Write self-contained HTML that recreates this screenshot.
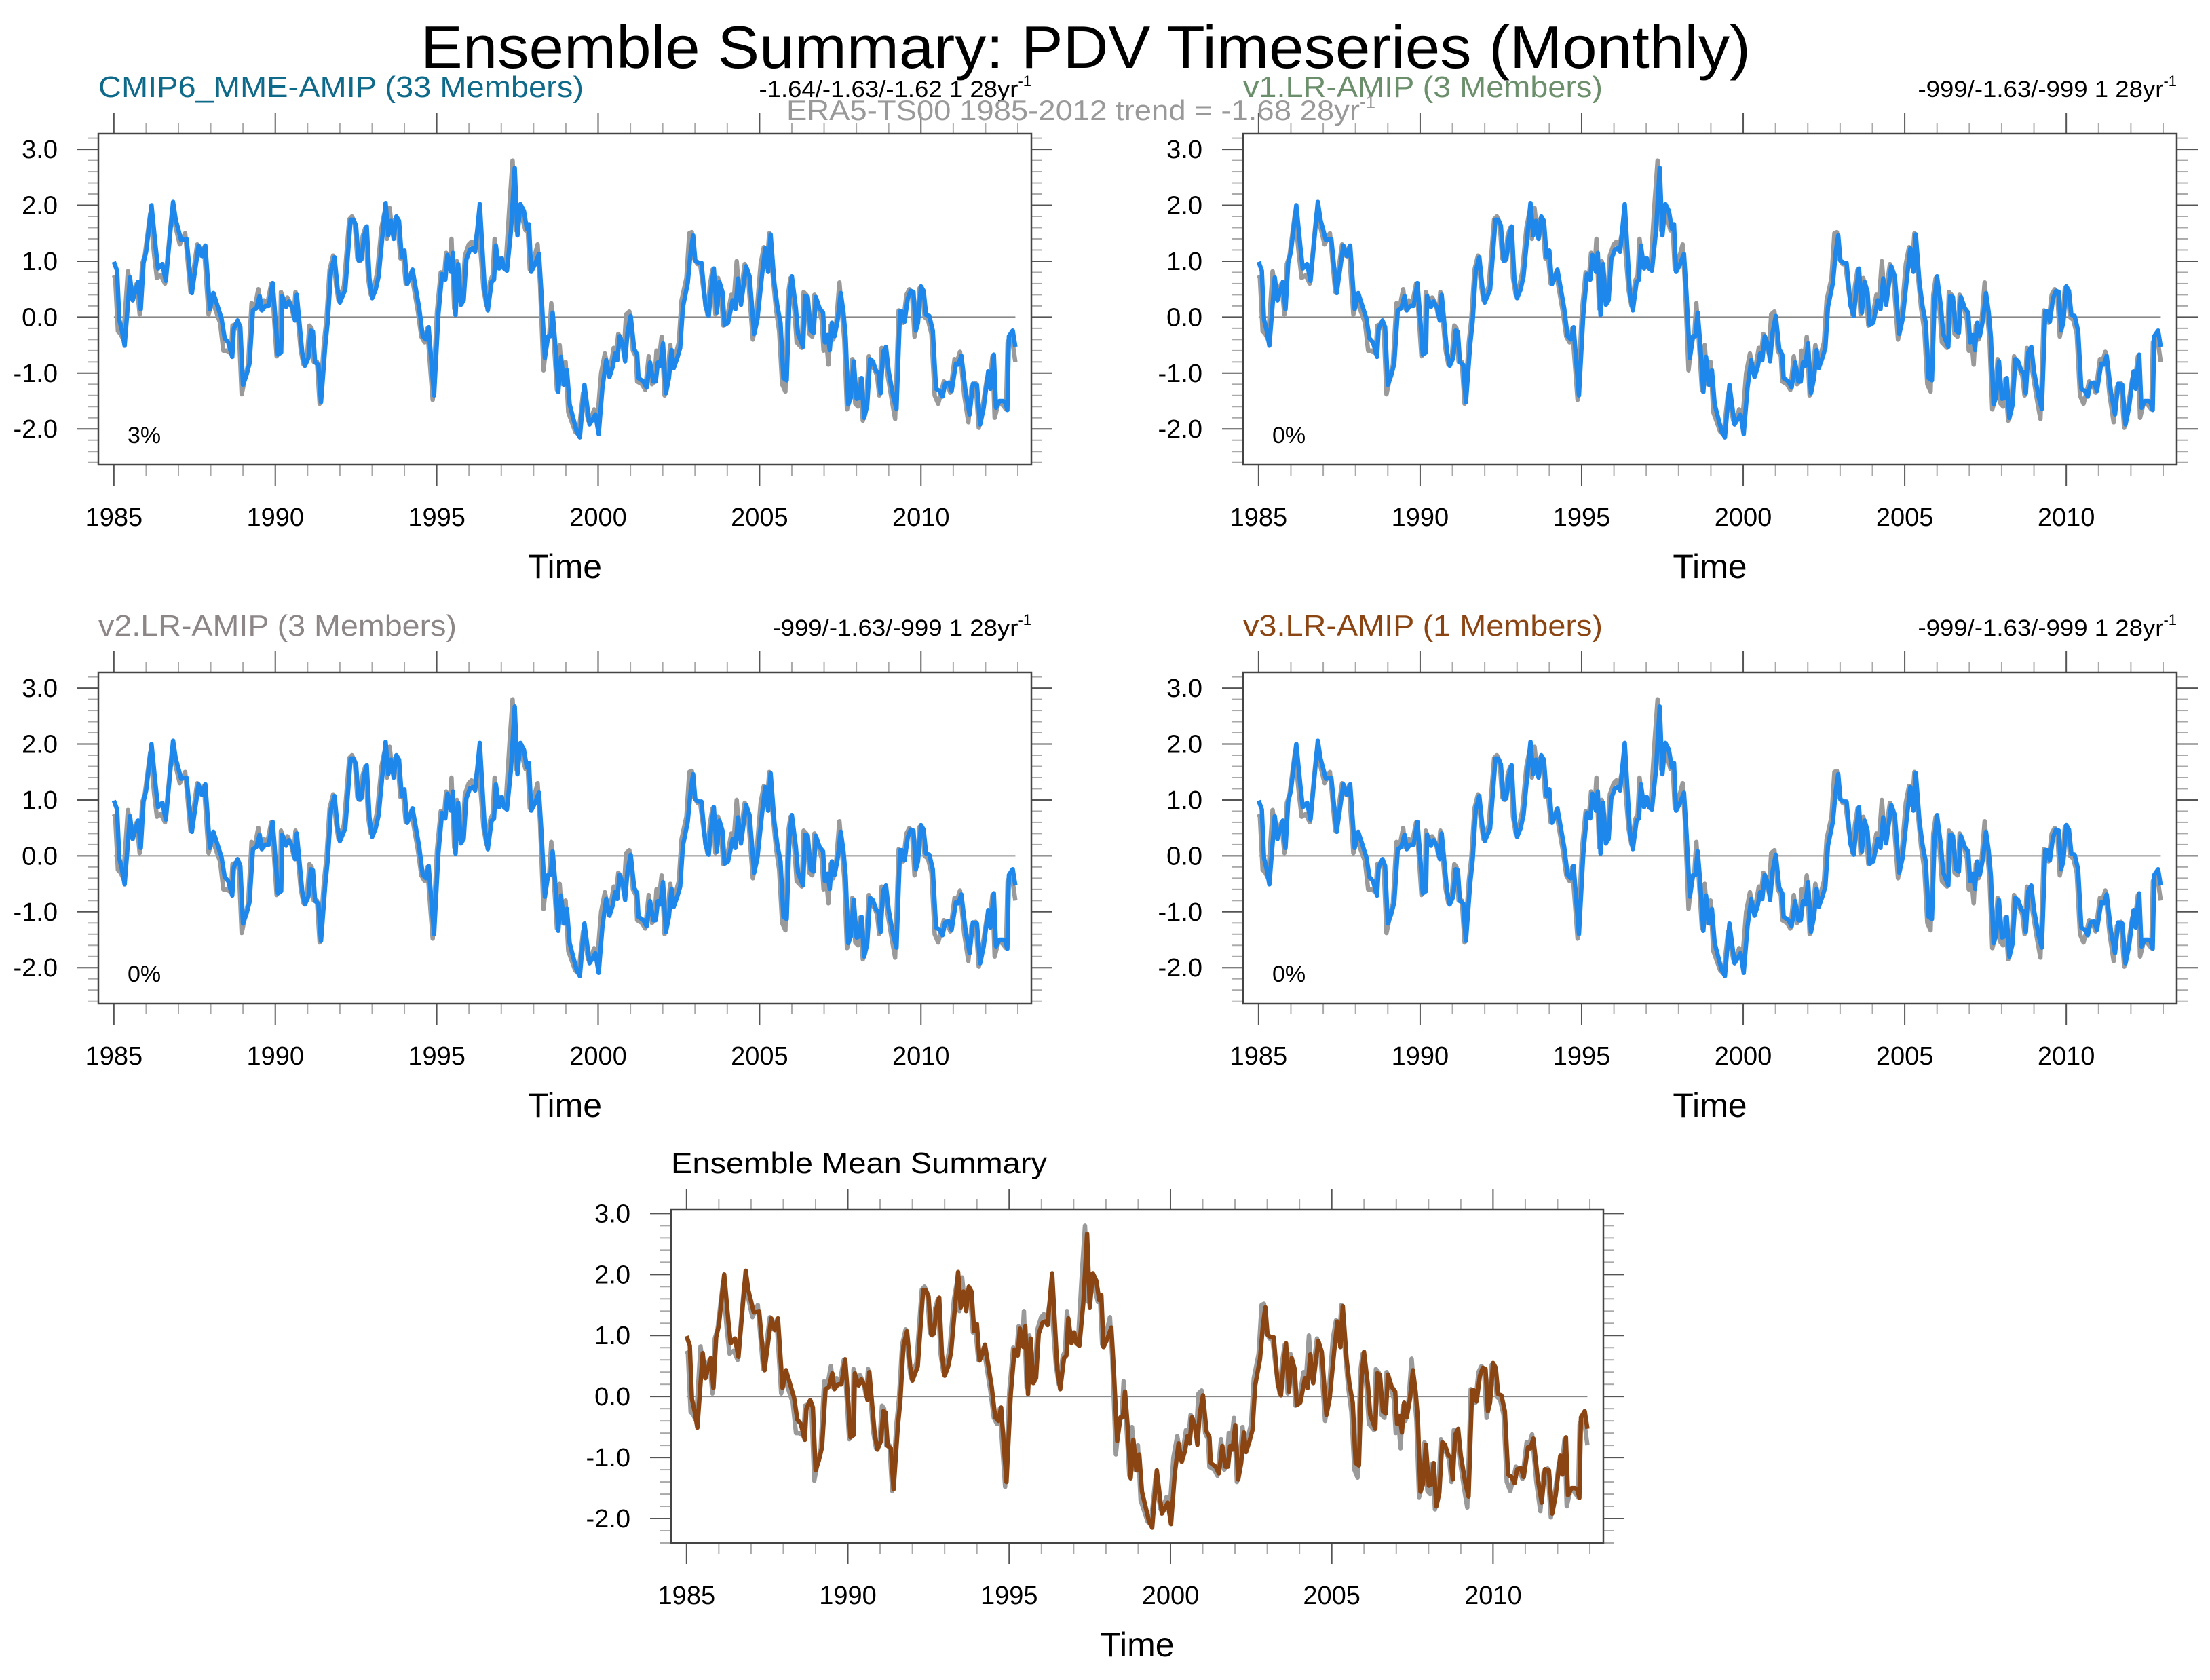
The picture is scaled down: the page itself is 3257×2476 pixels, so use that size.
<!DOCTYPE html>
<html><head><meta charset="utf-8"><title>Ensemble Summary: PDV Timeseries (Monthly)</title>
<style>
html,body{margin:0;padding:0;background:#fff;}
svg{display:block;font-family:"Liberation Sans",Arial,sans-serif;}
</style></head>
<body>
<svg id="chart" width="3257" height="2476" viewBox="0 0 3257 2476" xmlns="http://www.w3.org/2000/svg">
<rect x="0" y="0" width="3257" height="2476" fill="#fff"/>
<text x="620" y="100" font-size="88" fill="#000" textLength="1960" lengthAdjust="spacingAndGlyphs">Ensemble Summary: PDV Timeseries (Monthly)</text>
<g id="panels"></g>
<text x="1159" y="177" font-size="42" fill="#999">
<tspan textLength="845" lengthAdjust="spacingAndGlyphs">ERA5-TS00 1985-2012 trend = -1.68 28yr</tspan><tspan font-size="26" dy="-18">-1</tspan></text>
</svg>
<script>
// ---- data (month index since Jan 1985, PDV value) ----
const modelMonths = [0,1.2,2,3,4,6,7,9,10,11,12,14,15.5,16.4,18,19.3,22,23,25,27,29,31.5,32.8,34,35.7,37,40,41.2,42.5,44,44.6,46,47,48,49.2,50.4,51.7,53,54.2,55,56.3,57.6,59,59.7,61,62.2,62.6,64,65,66.4,67.3,68,70,71,72.3,73.2,74,74.8,76,77,78.6,79.5,80.7,82,83.2,84,86,88,89,90,91,92,93,94,95,96,97.3,98.4,100,101,102,103,104,105,106,107,108,109,110,111,113.5,114.8,116,117,119,120.6,122,123.2,124,125.3,126,127,128,129,130,131,132.4,133.4,134.3,136,137.9,139,140.4,141.3,142,143.2,144.2,145,146.1,147.6,149,150,151.1,152.4,153.5,154.3,155.1,156.4,158,158.9,160.2,161.4,162.3,163.1,164,165.2,166.2,167.3,168.4,169.4,172,173.2,174.9,176.8,178.3,179,180.2,181.6,183,184.2,185.4,186.3,187.1,188,189.2,190,190.9,192.1,193.4,194.5,195,196.8,198,199.3,200.5,201.4,202.2,203.1,204.1,205.2,206.3,207.3,208.1,209.4,210.5,211.5,213.3,214.4,215.3,216.1,217.4,218.4,219.9,221.1,222,223,224.1,225.1,226.2,227,228.3,230,231,232,233.1,235,236.3,238,239.2,240.9,242.1,243.2,244.1,245.5,246.6,247.8,248.9,250.1,251.1,252,253.5,254.3,256.2,256.9,257.9,259,260.1,260.9,262.3,263.6,264.3,265.3,266.1,266.9,267.9,269,270.2,271.2,272,273,273.9,275,276.1,277.1,277.9,278.9,280,281.1,282.1,283.4,284.2,285,285.9,287,288,289.7,290.9,292.2,292.9,293.9,295.1,296.2,297.2,298.1,298.9,300,301,301.9,303.1,304.4,305.6,306.9,308,309,310.3,311.4,313,313.9,315,316.6,318.1,319.3,320.8,322,323.3,325,325.8,327.1,327.9,329.2,330.5,331.3,332.1,332.7,334.1,335.1];
const modelValues = [.99,.83,-.04,-.24,-.51,.71,.30,.63,.14,.97,1.17,2.0,1.26,.87,.95,.65,2.06,1.74,1.38,1.40,.43,1.28,1.09,1.28,.14,.43,-.02,-.38,-.45,-.71,-.20,-.06,-.18,-1.21,-1.05,-.83,.12,.16,.38,.12,.20,.20,.61,.20,-.67,-.63,.38,.18,.28,.16,-.06,.40,-.63,-.87,-.73,-.24,-.26,-.81,-.85,-1.52,-.49,-.08,.83,1.07,.49,.26,.49,1.74,1.74,1.64,1.01,1.03,1.44,1.62,.69,.34,.49,.73,1.54,2.04,1.46,1.72,1.40,1.80,1.72,1.07,1.19,.59,.69,.85,.16,-.34,-.40,-.18,-1.40,.04,.77,.67,1.11,.81,1.15,.04,.95,.22,.30,1.03,1.21,1.23,1.17,2.02,.45,.12,.63,.67,1.28,.87,1.05,.87,.83,1.54,2.67,1.46,2.02,1.90,1.58,1.66,.81,.93,1.13,.45,-.73,-.34,-.34,.08,-.45,-1.34,-.71,-1.21,-.95,-1.56,-2.04,-2.15,-1.21,-1.92,-1.80,-1.74,-2.09,-1.26,-.77,-1.07,-.89,-.65,-.77,-.34,-.49,-.79,-.28,.02,-.57,-.67,-1.09,-1.15,-1.26,-.81,-1.15,-1.15,-.81,-.87,-.47,-1.36,-1.09,-.59,-.91,-.73,-.55,.18,.61,1.17,1.46,1.01,.97,.97,.20,.02,.49,.87,.08,.63,.45,-.14,-.10,.30,.14,.69,.22,.91,.73,-.30,-.04,.75,1.23,.81,1.48,.61,.20,-.10,-1.09,-1.13,.32,.73,.16,-.30,-.53,.38,.36,-.24,-.28,.36,.16,.08,-.45,-.32,-.59,-.10,-.34,-.06,.43,.08,-.36,-1.56,-1.44,-.79,-1.46,-1.44,-1.09,-1.80,-1.58,-.75,-.79,-.97,-.99,-1.36,-.63,-.53,-.97,-1.42,-1.64,.10,.10,-.08,.34,.47,.45,-.24,-.10,.55,.47,.04,.02,-.24,-1.28,-1.32,-1.42,-1.19,-1.17,-1.32,-.83,-.85,-.69,-1.34,-1.74,-1.19,-1.21,-1.92,-1.62,-.97,-1.28,-.67,-1.62,-1.50,-1.50,-1.52,-1.66,-.34,-.24,-.53];
const obsMonths = [0,0.5,1.5,2.5,3.5,5.2,6.5,8.5,9.6,10.5,11.5,13.5,15,16,17.5,19,21.5,22.5,24.5,26.5,28.5,31,32.3,33.5,35.2,36.5,39.5,40.7,42,43.5,44.1,45.5,46.5,47.5,48.7,49.9,51.2,52.5,53.7,54.5,55.8,57.1,58.5,59.2,60.5,61.7,62.1,63.5,64.5,65.9,66.8,67.5,69.5,70.5,71.8,72.7,73.5,74.3,75.5,76.5,78.1,79,80.2,81.5,82.7,83.5,85.5,87.5,88.5,89.5,90.5,91.5,92.5,93.5,94.5,95.5,96.8,97.9,99.5,100.5,101.5,102.5,103.5,104.5,105.5,106.5,107.5,108.5,109.5,110.5,113,114.3,115.5,116.5,118.5,120.1,121.5,122.7,123.5,124.8,125.5,126.5,127.5,128.5,129.5,130.5,131.9,132.9,133.8,135.5,137.4,138.5,139.9,140.8,141.5,142.7,143.7,144.5,145.6,147.1,148.2,149.5,150.6,151.9,153,153.8,154.6,155.9,157.5,158.4,159.7,160.9,161.8,162.6,163.5,164.7,165.7,166.8,167.9,168.9,171.5,172.7,174.4,176.3,177.8,178.5,179.7,181.1,182.5,183.7,184.9,185.8,186.6,187.5,188.7,189.5,190.4,191.6,192.9,194,194.5,196.3,197.5,198.8,200,200.9,201.7,202.6,203.6,204.7,205.8,206.8,207.6,208.9,210,211,212.8,213.9,214.8,215.6,216.9,217.9,219.4,220.6,221.5,222.5,223.6,224.6,225.7,226.5,227.8,229.5,230.5,231.5,232.6,234.5,235.8,237.5,238.7,240.4,241.6,242.7,243.6,245,246.1,247.3,248.4,249.6,250.6,251.5,253,253.8,255.7,256.4,257.4,258.5,259.6,260.4,261.8,263.1,263.8,264.8,265.6,266.4,267.4,268.5,269.7,270.7,271.5,272.5,273.4,274.5,275.6,276.6,277.4,278.4,279.5,280.6,281.6,282.9,283.7,284.5,285.4,286.5,287.5,289.2,290.4,291.7,292.4,293.4,294.6,295.7,296.7,297.6,298.4,299.5,300.5,301.4,302.6,303.9,305.1,306.4,307.5,308.5,309.8,310.9,312.5,313.4,314.5,316.1,317.6,318.8,320.3,321.5,322.8,324.5,325.3,326.6,327.4,328.7,330,330.8,331.6,332.2,333.6,335.1];
const obsValues = [.75,.70,-.25,-.30,-.40,.82,.40,.60,.05,.95,1.10,1.85,1.10,.70,.75,.60,1.85,1.70,1.30,1.50,.45,1.30,1.10,1.25,.05,.30,-.10,-.60,-.60,-.65,-.15,-.12,-.25,-1.38,-1.10,-.85,.25,.20,.50,.15,.30,.25,.60,.25,-.70,-.60,.45,.25,.35,.22,.00,.45,-.60,-.85,-.70,-.15,-.20,-.80,-.80,-1.55,-.45,-.05,.85,1.10,.55,.30,.55,1.75,1.80,1.70,1.05,1.00,1.45,1.60,.70,.40,.55,.80,1.60,1.85,1.40,1.95,1.50,1.75,1.65,1.05,1.10,.60,.65,.80,.10,-.35,-.45,-.20,-1.48,.10,.80,.70,1.15,.85,1.40,.15,1.00,.30,.35,1.10,1.30,1.35,1.20,1.65,.50,.20,.65,.75,1.40,.95,1.05,.90,.90,2.05,2.80,1.55,1.95,1.75,1.55,1.60,.85,1.00,1.30,.60,-.95,-.40,-.35,.25,-.40,-1.30,-.50,-1.20,-.80,-1.70,-2.05,-2.10,-1.35,-1.85,-1.75,-1.65,-1.85,-1.00,-.65,-.95,-.80,-.55,-.70,-.30,-.40,-.65,.05,.10,-.60,-.70,-1.15,-1.20,-1.30,-.70,-1.20,-1.15,-.60,-.75,-.35,-1.40,-1.00,-.50,-.85,-.65,-.45,.30,.70,1.50,1.52,1.05,.95,.95,.40,.05,.55,.85,.05,.70,.40,-.15,-.05,.40,.35,1.00,.30,.95,.70,-.40,-.05,.95,1.25,.90,1.50,.70,.15,-.25,-1.20,-1.33,.40,.70,.10,-.45,-.55,.45,.40,-.30,-.35,.40,.20,-.05,-.60,-.40,-.85,-.15,-.40,-.10,.62,.05,-.40,-1.65,-1.50,-.75,-1.55,-1.60,-1.10,-1.85,-1.65,-.70,-.85,-.95,-1.05,-1.40,-.55,-.60,-1.00,-1.50,-1.82,.12,.05,-.10,.40,.50,.40,-.35,-.15,.52,.42,.00,-.05,-.30,-1.40,-1.55,-1.35,-1.15,-1.20,-1.35,-.75,-.80,-.62,-1.40,-1.88,-1.25,-1.18,-1.98,-1.65,-1.10,-1.25,-.70,-1.80,-1.55,-1.55,-1.60,-1.65,-.45,-.30,-.80];
const yTickValues = [-2,-1,0,1,2,3];
const yTickLabels = ["-2.0","-1.0","0.0","1.0","2.0","3.0"];
const xTickYears = [1985,1990,1995,2000,2005,2010];
const xTickLabels = ["1985","1990","1995","2000","2005","2010"];

const NS = "http://www.w3.org/2000/svg";
const panelsG = document.getElementById('panels');
function mk(tag, attrs, parent){ const e=document.createElementNS(NS,tag); for(const k in attrs) e.setAttribute(k,attrs[k]); (parent||panelsG).appendChild(e); return e; }

const panels = [
  {key:'cmip6-mme', x:145, y:197, w:1375, h:488, ymin:-2.64, ymax:3.28, title:'CMIP6_MME-AMIP (33 Members)', tcol:'#0f6a8a', tlen:715, stat:'-1.64/-1.63/-1.62 1 28yr', slen:382, pct:'3%', line:'#1e87ec'},
  {key:'v1-lr', x:1832, y:197, w:1376, h:488, ymin:-2.64, ymax:3.28, title:'v1.LR-AMIP (3 Members)', tcol:'#6b8f6b', tlen:530, stat:'-999/-1.63/-999 1 28yr', slen:362, pct:'0%', line:'#1e87ec'},
  {key:'v2-lr', x:145, y:991, w:1375, h:488, ymin:-2.64, ymax:3.28, title:'v2.LR-AMIP (3 Members)', tcol:'#8c8687', tlen:528, stat:'-999/-1.63/-999 1 28yr', slen:362, pct:'0%', line:'#1e87ec'},
  {key:'v3-lr', x:1832, y:991, w:1376, h:488, ymin:-2.64, ymax:3.28, title:'v3.LR-AMIP (1 Members)', tcol:'#8b4513', tlen:530, stat:'-999/-1.63/-999 1 28yr', slen:362, pct:'0%', line:'#1e87ec'},
  {key:'ensemble-mean', x:989, y:1783, w:1374, h:491, ymin:-2.40, ymax:3.06, title:'Ensemble Mean Summary', tcol:'#000', tlen:554, stat:null, pct:null, line:'#8b4513'}
];
const X0 = 1984.52, X1 = 2013.42;

panels.forEach(p => {
  const g = mk('g', {});
  
  
  const xs = yr => p.x + (yr - X0) / (X1 - X0) * p.w;
  const ys = v => p.y + (p.ymax - v) / (p.ymax - p.ymin) * p.h;
  const xm = m => xs(1985 + m / 12);

  const t = mk('text', {x:p.x, y:p.y-54, 'font-size':44, fill:p.tcol, textLength:p.tlen, lengthAdjust:'spacingAndGlyphs'}, g);
  t.textContent = p.title;
  
  
  if (p.stat) {
    const st = mk('text', {x:p.x+p.w, y:p.y-54, 'font-size':34, fill:'#000', 'text-anchor':'end'}, g);
    
    
    const s1 = mk('tspan', {textLength:p.slen, lengthAdjust:'spacingAndGlyphs'}, st); s1.textContent = p.stat;
    const s2 = mk('tspan', {'font-size':22, dy:-16}, st); s2.textContent = '-1';
  }
  mk('rect', {x:p.x, y:p.y, width:p.w, height:p.h, fill:'#fff', stroke:'none'}, g);
  const tk = mk('g', {}, g);
  
  
  for (let yr = 1985; yr <= 2013; yr++) {
    const major = (yr % 5 === 0);
    const L = major ? 31 : 16, c = major ? '#555' : '#aaa';
    const x = xs(yr);
    mk('line', {x1:x, x2:x, y1:p.y, y2:p.y-L, stroke:c, 'stroke-width':2}, tk);
    mk('line', {x1:x, x2:x, y1:p.y+p.h, y2:p.y+p.h+L, stroke:c, 'stroke-width':2}, tk);
  }
  for (let k = Math.ceil(p.ymin*5); k <= Math.floor(p.ymax*5); k++) {
    const v = k/5, major = (k % 5 === 0);
    const L = major ? 31 : 16, c = major ? '#555' : '#aaa';
    const y = ys(v);
    mk('line', {x1:p.x, x2:p.x-L, y1:y, y2:y, stroke:c, 'stroke-width':2}, tk);
    mk('line', {x1:p.x+p.w, x2:p.x+p.w+L, y1:y, y2:y, stroke:c, 'stroke-width':2}, tk);
  }
  yTickValues.forEach((v,i) => {
    const l = mk('text', {x:p.x-60, y:ys(v)+13, 'font-size':38, 'text-anchor':'end', fill:'#000'}, g);
    l.textContent = yTickLabels[i];
    
    
  });
  xTickYears.forEach((yr,i) => {
    const l = mk('text', {x:xs(yr), y:p.y+p.h+90, 'font-size':38, 'text-anchor':'middle', fill:'#000'}, g);
    l.textContent = xTickLabels[i];
    
    
  });
  const xt = mk('text', {x:p.x+p.w/2, y:p.y+p.h+167, 'font-size':50, 'text-anchor':'middle', fill:'#000'}, g);
  xt.textContent = 'Time';
  
  
  const z = mk('line', {x1:xm(0), x2:xm(335.1), y1:ys(0), y2:ys(0), stroke:'#888', 'stroke-width':2}, g);
  
  
  const obsPts = obsMonths.map((m,i) => xm(m).toFixed(1)+','+ys(obsValues[i]).toFixed(1)).join(' ');
  const o = mk('polyline', {points:obsPts, fill:'none', stroke:'#9a9a9a', 'stroke-width':6.5, 'stroke-linejoin':'round'}, g);
  
  
  const modPts = modelMonths.map((m,i) => xm(m).toFixed(1)+','+ys(modelValues[i]).toFixed(1)).join(' ');
  const md = mk('polyline', {points:modPts, fill:'none', stroke:p.line, 'stroke-width':6.5, 'stroke-linejoin':'round'}, g);
  
  
  const fr = mk('rect', {x:p.x, y:p.y, width:p.w, height:p.h, fill:'none', stroke:'#444', 'stroke-width':2.5}, g);
  
  
  if (p.pct) {
    const pc = mk('text', {x:p.x+43, y:p.y+p.h-32, 'font-size':34, fill:'#000'}, g);
    pc.textContent = p.pct;
    
    
  }
});
</script>
</body></html>
